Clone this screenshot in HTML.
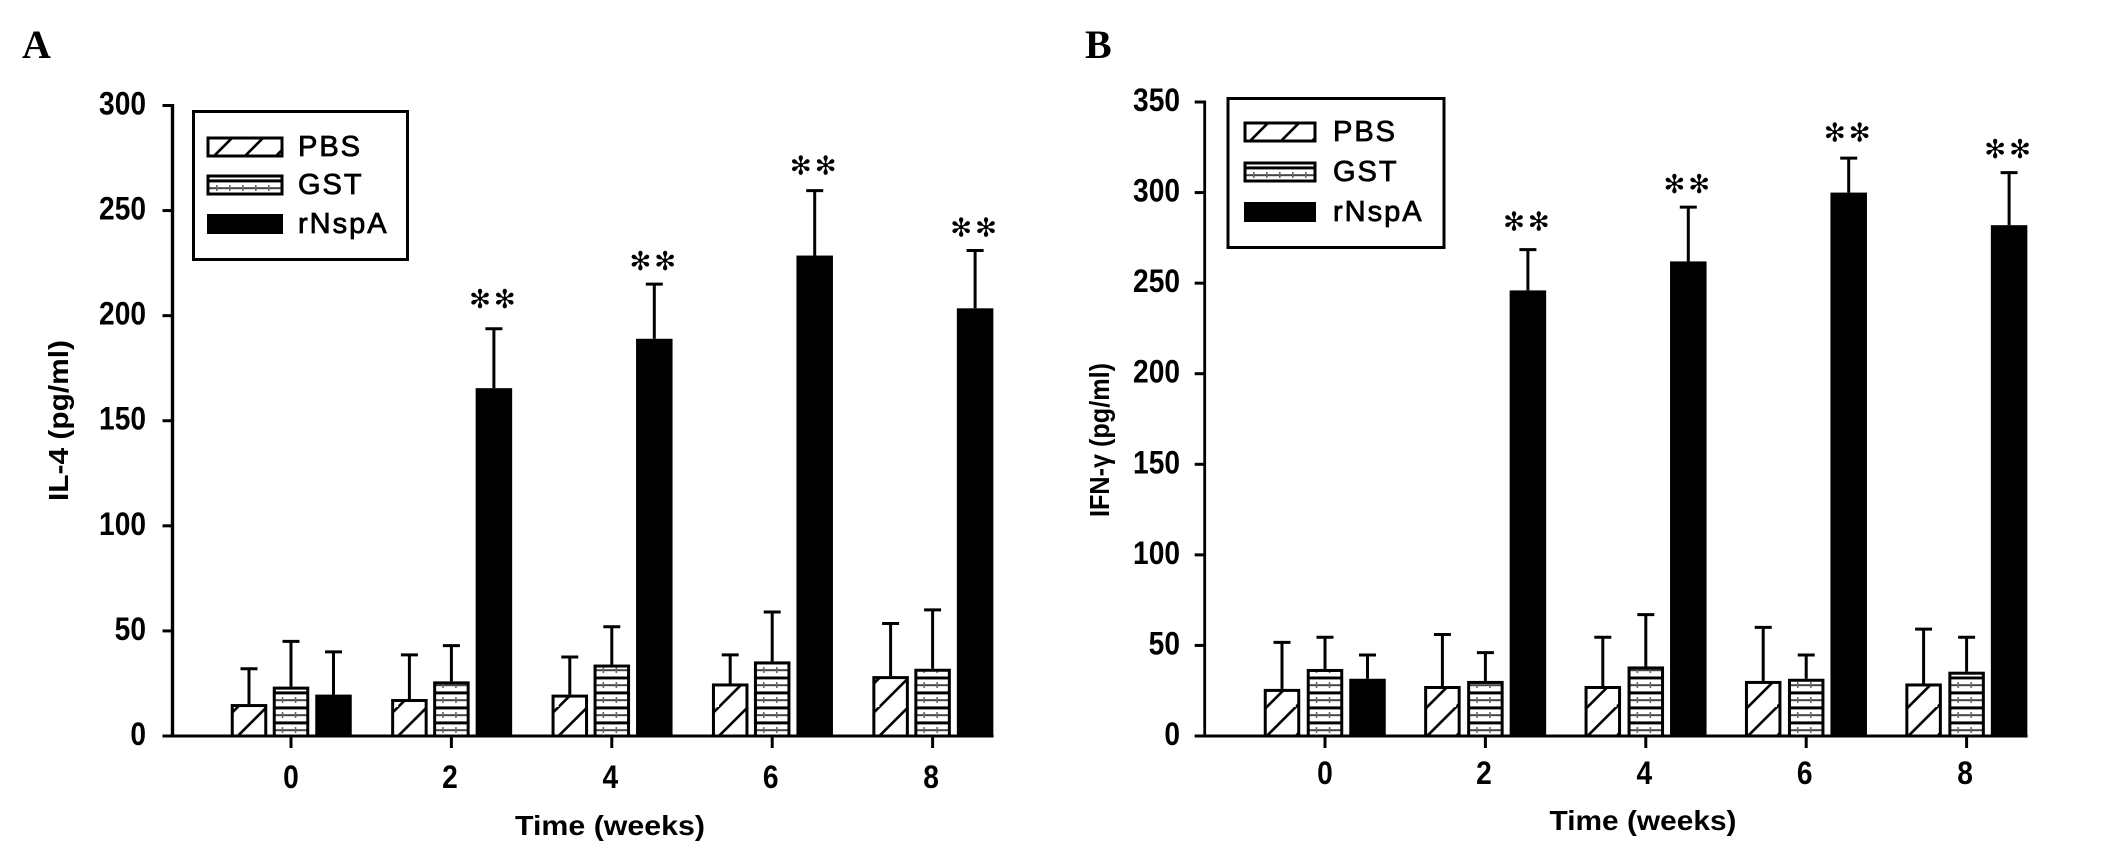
<!DOCTYPE html>
<html lang="en">
<head>
<meta charset="utf-8">
<title>IL-4 and IFN-γ over time</title>
<style>
html,body{margin:0;padding:0;background:#fff;width:2126px;height:854px;overflow:hidden}
svg{display:block}
text{font-family:"Liberation Sans",sans-serif;fill:#000}
.tick{font-size:32px;font-weight:bold}
.title{font-size:28px;font-weight:bold}
.leg{font-size:29px;letter-spacing:2px;stroke:#000;stroke-width:.8px}
.letter{font-family:"Liberation Serif",serif;font-size:40px;font-weight:bold}
.star{font-family:"DejaVu Sans",sans-serif;font-size:26px;letter-spacing:3px}
</style>
</head>
<body>
<svg id="fig" xmlns="http://www.w3.org/2000/svg" width="2126" height="854" viewBox="0 0 2126 854">
<defs id="defs">
<pattern id="leg-hatch-a" patternUnits="userSpaceOnUse" width="31" height="31" patternTransform="translate(214,156)"><path d="M-4 4L4 -4M-4 35L35 -4" stroke="#000" stroke-width="2.6" fill="none"/></pattern>
<pattern id="leg-hatch-b" patternUnits="userSpaceOnUse" width="31" height="31" patternTransform="translate(1250,141)"><path d="M-4 4L4 -4M-4 35L35 -4" stroke="#000" stroke-width="2.6" fill="none"/></pattern>
<pattern id="leg-brick-a" patternUnits="userSpaceOnUse" width="13" height="15" patternTransform="translate(207,179)"><rect x="0" y="0.4" width="13" height="3" fill="#000"/><rect x="0" y="8.2" width="13" height="2" fill="#444"/><rect x="9" y="6" width="1.6" height="6" fill="#666"/></pattern>
<pattern id="leg-brick-b" patternUnits="userSpaceOnUse" width="13" height="15" patternTransform="translate(1244,166)"><rect x="0" y="0.4" width="13" height="3" fill="#000"/><rect x="0" y="8.2" width="13" height="2" fill="#444"/><rect x="9" y="6" width="1.6" height="6" fill="#666"/></pattern>
</defs>
<rect width="2126" height="854" fill="#fff"/>

<text class="letter" x="22" y="58">A</text>
<text class="letter" x="1085" y="58">B</text>

<g id="panel-a"></g>
<g id="panel-b"></g>

<text class="title" x="610" y="835" text-anchor="middle" textLength="190" lengthAdjust="spacingAndGlyphs">Time (weeks)</text>
<text class="title" x="1643" y="830" text-anchor="middle" textLength="187" lengthAdjust="spacingAndGlyphs">Time (weeks)</text>
<text class="title" transform="translate(68,501) rotate(-90)" textLength="161" lengthAdjust="spacingAndGlyphs">IL-4 (pg/ml)</text>
<text class="title" transform="translate(1109,517) rotate(-90)" textLength="154" lengthAdjust="spacingAndGlyphs">IFN-γ (pg/ml)</text>

<g>
<rect x="193.500" y="111.500" width="214" height="148" fill="#fff" stroke="#000" stroke-width="3"/>
<rect x="208" y="138" width="74" height="18" fill="url(#leg-hatch-a)" stroke="#000" stroke-width="3"/>
<rect x="208" y="176" width="74" height="18" fill="url(#leg-brick-a)" stroke="#000" stroke-width="3"/>
<rect x="207" y="214" width="76" height="20" fill="#000"/>
<text class="leg" x="298" y="156">PBS</text>
<text class="leg" x="298" y="194">GST</text>
<text class="leg" x="298" y="233">rNspA</text>
</g>
<g>
<rect x="1228" y="98.500" width="216" height="149" fill="#fff" stroke="#000" stroke-width="3"/>
<rect x="1245" y="123" width="70" height="18" fill="url(#leg-hatch-b)" stroke="#000" stroke-width="3"/>
<rect x="1245" y="163" width="70" height="18" fill="url(#leg-brick-b)" stroke="#000" stroke-width="3"/>
<rect x="1244" y="202" width="72" height="20" fill="#000"/>
<text class="leg" x="1333" y="141">PBS</text>
<text class="leg" x="1333" y="181">GST</text>
<text class="leg" x="1333" y="221">rNspA</text>
</g>
</svg>
<script>
const weeks = ['0','2','4','6','8'];
const seriesNames = ['pbs','gst','rnspa'];

const ticksA = [0,50,100,150,200,250,300];
const pbsA = [15.2,17.6,19.7,25,28.5];
const gstA = [23.5,26,34,35.5,32];
const rnspaA = [19.7,165.5,189,228.6,203.5];
const pbsErrA = [32,38.6,37.6,38.6,53.5];
const gstErrA = [45,43,52,59,60];
const rnspaErrA = [40,193.8,215,259.5,231];
const starsA = [null,207,225,270.5,241];

const ticksB = [0,50,100,150,200,250,300,350];
const pbsB = [26,27.6,27.6,30.4,29];
const gstB = [37,30.4,38.4,31.6,35.5];
const rnspaB = [31.6,246,262,300,282];
const pbsErrB = [51.7,56,54.5,60,59];
const gstErrB = [54.5,46,67,44.7,54.5];
const rnspaErrB = [44.7,268.5,292,319,311];
const starsB = [null,283,303.5,332,323];

const NS = 'http://www.w3.org/2000/svg';
const defs = document.getElementById('defs');

function make(parent, tag, attrs, txt) {
  const e = document.createElementNS(NS, tag);
  for (const k in attrs) e.setAttribute(k, attrs[k]);
  if (txt !== undefined) e.textContent = txt;
  parent.appendChild(e);
  return e;
}

function hatchFill(id, left, bottom, dx) {
  const p = make(defs, 'pattern', {id: id, patternUnits: 'userSpaceOnUse', width: 29, height: 29,
    patternTransform: 'translate(' + (left + dx) + ',' + bottom + ')'});
  make(p, 'path', {d: 'M-4 4L4 -4M-4 33L33 -4', stroke: '#000', 'stroke-width': 2.6, fill: 'none'});
  return 'url(#' + id + ')';
}

function brickFill(id, left, bottom) {
  const p = make(defs, 'pattern', {id: id, patternUnits: 'userSpaceOnUse', width: 13, height: 15,
    patternTransform: 'translate(' + left + ',' + (bottom - 15) + ')'});
  make(p, 'rect', {x: 0, y: 0.4, width: 13, height: 3, fill: '#000'});
  make(p, 'rect', {x: 0, y: 8.2, width: 13, height: 2, fill: '#444'});
  make(p, 'rect', {x: 9, y: 6, width: 1.6, height: 6, fill: '#666'});
  return 'url(#' + id + ')';
}

function drawPanel(root, cfg, ticks, values, errors, stars) {
  const key = cfg.key;
  const y = v => cfg.y0 - v * cfg.pxPerUnit;
  const xc = i => cfg.x0 + cfg.step * i;
  const offsets = [cfg.off0, 0, 42.5];
  const barW = 36.5;

  values.forEach((series, s) => {
    series.forEach((v, i) => {
      const cx = xc(i) + offsets[s];
      const left = cx - barW / 2;
      const top = y(v);

      const stem = make(root, 'line', {x1: cx, x2: cx, y1: top, y2: y(errors[s][i]), stroke: '#000', 'stroke-width': 3});
      
      

      const cap = make(root, 'line', {x1: cx - 8.5, x2: cx + 8.5, y1: y(errors[s][i]), y2: y(errors[s][i]), stroke: '#000', 'stroke-width': 3});
      
      

      let fill = '#000';
      if (s === 0) fill = hatchFill('h' + key + i, left, cfg.y0, cfg.hatchDx);
      if (s === 1) fill = brickFill('b' + key + i, left, cfg.y0);
      const bar = make(root, 'rect', {x: left + 1.5, y: top + 1.5, width: barW - 3, height: cfg.y0 - top - 1.5, fill: fill, stroke: '#000', 'stroke-width': 3});
      
      
    });
  });

  stars.forEach((lv, i) => {
    if (lv === null) return;
    const st = make(root, 'text', {class: 'star', x: xc(i) + 42.5, y: y(lv) + 7, 'text-anchor': 'middle'}, '✻✻');
    
    
  });

  const yAxis = make(root, 'line', {x1: cfg.ax, x2: cfg.ax, y1: y(ticks[ticks.length - 1]) - 1.5, y2: cfg.y0 + 1.5, stroke: '#000', 'stroke-width': cfg.axisW});
  
  

  const xAxis = make(root, 'line', {x1: cfg.ax - 10, x2: xc(weeks.length - 1) + 61, y1: cfg.y0, y2: cfg.y0, stroke: '#000', 'stroke-width': 3});
  
  

  ticks.forEach(t => {
    const mark = make(root, 'line', {x1: cfg.ax - 10, x2: cfg.ax, y1: y(t), y2: y(t), stroke: '#000', 'stroke-width': 3});
    
    

    const lab = make(root, 'text', {class: 'tick', transform: 'translate(' + cfg.labelRight + ',' + (y(t) + 9) + ') scale(.88,1)', 'text-anchor': 'end'}, String(t));
    
    
  });

  weeks.forEach((w, i) => {
    const mark = make(root, 'line', {x1: xc(i), x2: xc(i), y1: cfg.y0, y2: cfg.y0 + 12, stroke: '#000', 'stroke-width': 3});
    
    

    const lab = make(root, 'text', {class: 'tick', transform: 'translate(' + (xc(i) - (i > 0 ? 1.5 : 0)) + ',' + cfg.xLabelY + ') scale(.88,1)', 'text-anchor': 'middle'}, w);
    
    
  });
}

drawPanel(document.getElementById('panel-a'),
  {key: 'a', y0: 736, pxPerUnit: 2.1017, x0: 291, step: 160.4, off0: -42, ax: 172.5, axisW: 3.4, labelRight: 146, xLabelY: 788, hatchDx: 7},
  ticksA, [pbsA, gstA, rnspaA], [pbsErrA, gstErrA, rnspaErrA], starsA);

drawPanel(document.getElementById('panel-b'),
  {key: 'b', y0: 736, pxPerUnit: 1.8114, x0: 1325, step: 160.4, off0: -43, ax: 1204.7, axisW: 2.8, labelRight: 1180, xLabelY: 784, hatchDx: 3},
  ticksB, [pbsB, gstB, rnspaB], [pbsErrB, gstErrB, rnspaErrB], starsB);
</script>
</body>
</html>
